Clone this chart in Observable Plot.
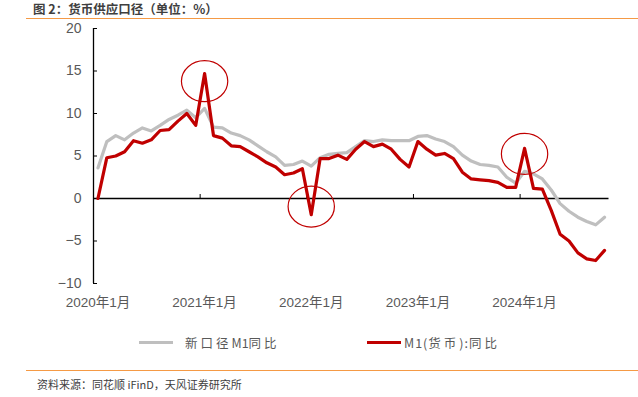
<!DOCTYPE html>
<html><head><meta charset="utf-8">
<script src="https://cdn.jsdelivr.net/npm/d3@7"></script>
<script src="https://cdn.jsdelivr.net/npm/@observablehq/plot@0.6"></script>
<style>
body{margin:0;width:638px;height:397px;background:#fff;position:relative;overflow:hidden;font-family:"Liberation Sans","Noto Sans CJK SC",sans-serif;}
#title{position:absolute;left:26px;top:0;width:612px;height:19px;border-bottom:1.5px solid #F59A45;font-family:"Noto Sans CJK SC",sans-serif;font-weight:bold;font-size:12.5px;color:#3f3f3f;padding-left:7px;box-sizing:border-box;line-height:17px;}
#chart{position:absolute;left:0;top:20px;}
.leg{position:absolute;top:333px;height:18px;display:flex;align-items:center;font-family:"Noto Sans CJK SC",sans-serif;font-size:12.5px;color:#595959;white-space:pre;}
.sw{display:inline-block;width:34px;height:3px;margin-right:12px;}
.cj{letter-spacing:3px;}
#footline{position:absolute;left:26px;top:370px;width:612px;border-top:1.5px solid #F59A45;}
#source{position:absolute;left:37px;top:376px;font-family:"Noto Sans CJK SC",sans-serif;font-size:11px;color:#404040;}
</style></head>
<body>
<div id="title">图 2：货币供应口径（单位：%）</div>
<div id="chart"></div>
<div class="leg" id="leg1" style="left:139px;"><span class="sw" style="background:#BFBFBF"></span><span class="cj">新口径</span><span>M1</span><span class="cj">同比</span></div>
<div class="leg" id="leg2" style="left:367px;"><span class="sw" style="background:#C00000;margin-right:3px"></span><span style="letter-spacing:1px">M1(</span><span class="cj">货币</span><span style="letter-spacing:1px">):</span><span class="cj">同比</span></div>
<div id="footline"></div>
<div id="source">资料来源：同花顺 iFinD，天风证券研究所</div>
<script>
// Months: Jan 2020 .. Oct 2024 (index 0..57)
const startYear = 2020;
const monthCount = 58;

// 新口径M1同比 (%)
const newM1 = [3.6, 6.7, 7.4, 6.9, 7.7, 8.3, 7.95, 8.6, 9.3, 9.8, 10.4, 9.5,
  10.6, 8.4, 8.3, 7.7, 7.4, 6.9, 6.2, 5.5, 4.9, 3.9, 4.0, 4.4,
  3.8, 4.8, 5.2, 5.3, 5.4, 6.1, 6.8, 6.7, 6.9, 6.8, 6.8, 6.8,
  7.3, 7.4, 7.0, 6.7, 6.1, 5.1, 4.4, 4.0, 3.9, 3.7, 2.5, 1.8,
  3.2, 2.9, 2.3, 1.0, -0.6, -1.5, -2.2, -2.7, -3.1, -2.2];

// M1(货币):同比 (%)
const m1 = [0.0, 4.8, 5.0, 5.5, 6.8, 6.5, 6.9, 8.0, 8.1, 9.1, 10.0, 8.6,
  14.7, 7.4, 7.1, 6.2, 6.1, 5.5, 4.9, 4.2, 3.7, 2.8, 3.0, 3.5,
  -1.9, 4.7, 4.7, 5.1, 4.6, 5.8, 6.7, 6.1, 6.4, 5.8, 4.6, 3.7,
  6.7, 5.8, 5.1, 5.3, 4.7, 3.1, 2.3, 2.2, 2.1, 1.9, 1.3, 1.3,
  5.9, 1.2, 1.1, -1.4, -4.2, -5.0, -6.4, -7.1, -7.3, -6.1];

// x-axis tick labels and the month index they sit on
const xTickLabels = ["2020年1月", "2021年1月", "2022年1月", "2023年1月", "2024年1月"];
const xTickIndex = [0, 12, 24, 36, 48];
// tick marks between Dec and Jan
const xTickMarks = [11.5, 23.5, 35.5, 47.5];

const yTicks = [-10, -5, 0, 5, 10, 15, 20];

// circled highlights (month index, value at ellipse centre)
const circleIndex = [12, 24, 48];
const circleValue = [13.8, -0.95, 5.25];

const grayData = newM1.map((v, i) => ({i, v}));
const redData = m1.map((v, i) => ({i, v}));
const circles = circleIndex.map((i, k) => ({i, v: circleValue[k]}));

const ellipse = {
  draw(ctx, size) {
    const ry = Math.sqrt(size / Math.PI), rx = ry * 1.13, k = 0.5523;
    ctx.moveTo(rx, 0);
    ctx.bezierCurveTo(rx, k * ry, k * rx, ry, 0, ry);
    ctx.bezierCurveTo(-k * rx, ry, -rx, k * ry, -rx, 0);
    ctx.bezierCurveTo(-rx, -k * ry, -k * rx, -ry, 0, -ry);
    ctx.bezierCurveTo(k * rx, -ry, rx, -k * ry, rx, 0);
    ctx.closePath();
  }
};

const chart = Plot.plot({
  width: 638,
  height: 300,
  marginLeft: 93,
  marginRight: 29.5,
  marginTop: 8,
  marginBottom: 37,
  style: {fontFamily: "'Liberation Sans','Noto Sans CJK SC',sans-serif", fontSize: "14px", color: "#595959", background: "transparent"},
  x: {type: "linear", domain: [-0.5, monthCount - 0.5]},
  y: {domain: [-10, 20]},
  marks: [
    Plot.axisY({ticks: yTicks, tickSize: 0, tickPadding: 12, tickFormat: d => d < 0 ? "−" + Math.abs(d) : String(d), label: null}),
    Plot.axisX({ticks: xTickIndex, tickSize: 0, tickPadding: 14, tickFormat: d => xTickLabels[xTickIndex.indexOf(d)], label: null, fontSize: "13.5px"}),
    Plot.ruleY(yTicks, {x1: -0.5, x2: -0.5, insetRight: -4, stroke: "#000", strokeWidth: 1}),
    Plot.ruleX(xTickMarks, {y1: 0, y2: 0, insetTop: -4, stroke: "#000", strokeWidth: 1}),
    Plot.ruleY([0], {stroke: "#000", strokeWidth: 1.3}),
    Plot.ruleX([-0.5], {stroke: "#000", strokeWidth: 1.3}),
    Plot.line(grayData, {x: "i", y: "v", stroke: "#BFBFBF", strokeWidth: 3.2}),
    Plot.line(redData, {x: "i", y: "v", stroke: "#C00000", strokeWidth: 3.2}),
    Plot.dot(circles, {x: "i", y: "v", r: 20.5, symbol: ellipse, fill: "none", stroke: "#C00000", strokeWidth: 1.2})
  ]
});
document.getElementById("chart").appendChild(chart);
</script>
</body></html>
